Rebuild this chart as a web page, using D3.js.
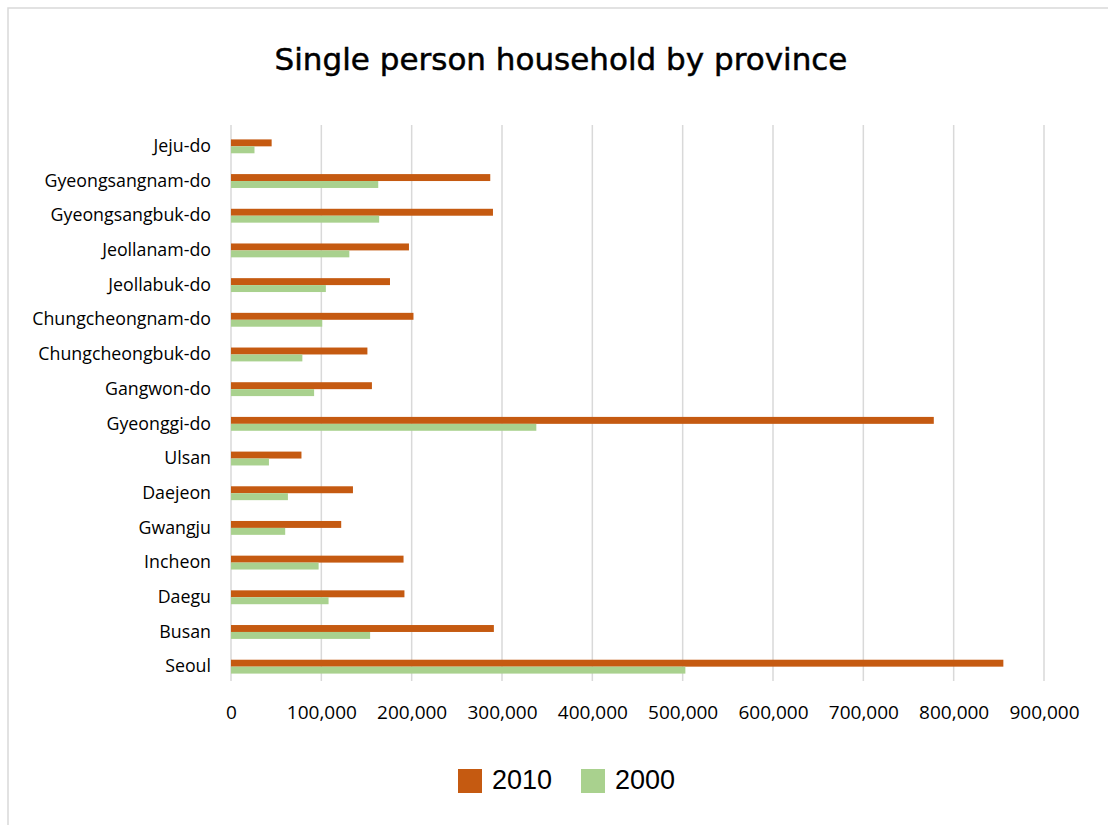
<!DOCTYPE html>
<html>
<head>
<meta charset="utf-8">
<script src="https://cdn.jsdelivr.net/npm/d3@7"></script>
<style>
  html, body { margin: 0; padding: 0; background: #fff; }
</style>
</head>
<body>
<svg id="chart" width="1108" height="825"></svg>
<script>
const categories = ["Seoul","Busan","Daegu","Incheon","Gwangju","Daejeon","Ulsan","Gyeonggi-do","Gangwon-do","Chungcheongbuk-do","Chungcheongnam-do","Jeollabuk-do","Jeollanam-do","Gyeongsangbuk-do","Gyeongsangnam-do","Jeju-do"];
const series = ["2010","2000"];
const values2010 = [855000,291000,192000,191000,122000,135000,78000,778000,156000,151000,202000,176000,197000,290000,287000,45000];
const values2000 = [503000,154000,108000,97000,60000,63000,42000,338000,92000,79000,101000,105000,131000,164000,163000,26000];
const xTicks = [0,100000,200000,300000,400000,500000,600000,700000,800000,900000];
const colors = {"2010":"#C55A11","2000":"#A9D18E"};

(function(){
const svg = d3.select("#chart");
svg.append("rect").attr("x",8).attr("y",8).attr("width",1110).attr("height",830)
  .attr("fill","#fff").attr("stroke","#D9D9D9").attr("stroke-width",1.5);

const mLeft = 231, mRight = 1044, mTop = 129, mBottom = 684;
const x = d3.scaleLinear().domain([0,900000]).range([mLeft,mRight]);
const y = d3.scaleBand().domain(categories.slice().reverse()).range([mTop,mBottom]).paddingInner(0.6).paddingOuter(0.3);
const ySub = d3.scaleBand().domain(series).range([0,y.bandwidth()]);

// gridlines
svg.append("g").selectAll("line").data(xTicks).join("line")
  .attr("x1",d=>x(d)).attr("x2",d=>x(d)).attr("y1",125).attr("y2",681)
  .attr("stroke","#D9D9D9").attr("stroke-width",1.5);

// bars
const data = categories.map((c,i)=>({cat:c, "2010":values2010[i], "2000":values2000[i]}));
const g = svg.append("g");
series.forEach(s=>{
  g.selectAll("rect.s"+s).data(data).join("rect")
    .attr("class","s"+s)
    .attr("x",x(0))
    .attr("y",d=>y(d.cat)+ySub(s))
    .attr("width",d=>x(d[s])-x(0))
    .attr("height",ySub.bandwidth())
    .attr("fill",colors[s]);
});

// y axis labels
const yAxis = d3.axisLeft(y).tickSize(0).tickPadding(20);
const ya = svg.append("g").attr("transform",`translate(${mLeft},0)`).call(yAxis);
ya.select(".domain").remove();
ya.selectAll("text").attr("font-family","Open Sans, sans-serif").attr("font-size",17.8).attr("fill","#000");

// x axis labels
const xAxis = d3.axisBottom(x).tickValues(xTicks).tickSize(0).tickPadding(0).tickFormat(d3.format(","));
const xa = svg.append("g").attr("transform",`translate(0,${mBottom+21})`).call(xAxis);
xa.select(".domain").remove();
xa.selectAll("text").attr("font-family","Open Sans, sans-serif").attr("font-size",19).attr("fill","#000").attr("dy","0.71em");

// title
svg.append("text").attr("x",561).attr("y",70).attr("text-anchor","middle")
  .attr("font-family","DejaVu Sans, sans-serif").attr("font-size",31).attr("fill","#000")
  .attr("stroke","#000").attr("stroke-width",0.5)
  .text("Single person household by province");

// legend
const legendItems = [{s:"2010",x:458},{s:"2000",x:581}];
const lg = svg.append("g");
legendItems.forEach(it=>{
  lg.append("rect").attr("x",it.x).attr("y",769).attr("width",24).attr("height",24).attr("fill",colors[it.s]);
  lg.append("text").attr("x",it.x+34).attr("y",789).attr("font-family","Liberation Sans, Arial, sans-serif")
    .attr("font-size",27).attr("fill","#000").text(it.s);
});
})();
</script>
</body>
</html>
